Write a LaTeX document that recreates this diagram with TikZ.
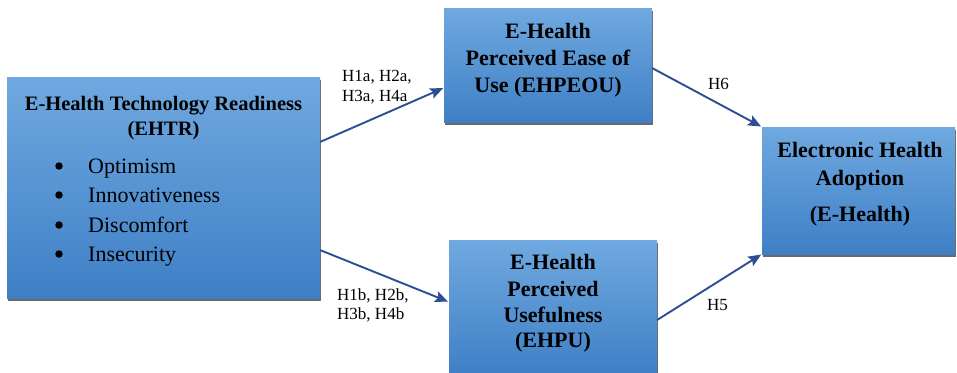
\documentclass[tikz,border=0pt]{standalone}
\usepackage{fontspec}
\setmainfont{Liberation Serif}
\usetikzlibrary{arrows.meta,calc,shadows}

\definecolor{boxtop}{RGB}{112,169,224}
\definecolor{boxbot}{RGB}{62,127,197}
\definecolor{arrowblue}{RGB}{44,78,146}
\definecolor{shadowgrey}{RGB}{80,80,80}

\tikzset{
  panel/.style={anchor=north west, inner sep=0pt, outer sep=0pt,
    top color=boxtop, bottom color=boxbot,
    drop shadow={shadow xshift=0.6pt, shadow yshift=-2.6pt, fill=shadowgrey, opacity=0.85}},
  heading/.style={anchor=base, inner sep=0pt, font=\fontsize{22}{26}\selectfont\bfseries},
  maintitle/.style={anchor=base, inner sep=0pt, font=\fontsize{20.5}{24}\selectfont\bfseries},
  item/.style={anchor=base west, inner sep=0pt, font=\fontsize{22}{26}\selectfont},
  dot/.style={anchor=center, inner sep=0pt, circle, fill=black, minimum size=7.5pt},
  hyp/.style={anchor=base west, inner sep=0pt, font=\fontsize{17}{20}\selectfont},
  link/.style={draw=arrowblue, line width=1.9pt,
    -{Stealth[length=13pt, width=11pt, inset=2.5pt]}, shorten >=1pt}
}

\begin{document}
\begin{tikzpicture}[x=1pt, y=-1pt]
  \useasboundingbox (0,0) rectangle (957,372);

  % Construct panels
  \node[panel, minimum width=313pt, minimum height=221pt] (ehtr)   at (7,77)   {};
  \node[panel, minimum width=208pt, minimum height=114pt] (ehpeou) at (444,8)  {};
  \node[panel, minimum width=208pt, minimum height=135pt] (ehpu)   at (449,240) {};
  \node[panel, minimum width=193pt, minimum height=127pt] (adopt)  at (762,127) {};

  % Technology readiness panel
  \node[maintitle] (ehtrA) at (163.5,110) {E-Health Technology Readiness};
  \node[maintitle] (ehtrB) at (163.5,135) {(EHTR)};
  \node[dot]  (b1) at (59,166) {};
  \node[item] (i1) at (88,173) {Optimism};
  \node[dot]  (b2) at (59,195) {};
  \node[item] (i2) at (88,202) {Innovativeness};
  \node[dot]  (b3) at (59,225) {};
  \node[item] (i3) at (88,232) {Discomfort};
  \node[dot]  (b4) at (59,254) {};
  \node[item] (i4) at (88,261) {Insecurity};

  % Perceived ease of use panel
  \node[heading] (eouA) at (548,38) {E-Health};
  \node[heading] (eouB) at (548,65) {Perceived Ease of};
  \node[heading] (eouC) at (548,92) {Use (EHPEOU)};

  % Perceived usefulness panel
  \node[heading] (puA) at (553,269) {E-Health};
  \node[heading] (puB) at (553,296) {Perceived};
  \node[heading] (puC) at (553,322) {Usefulness};
  \node[heading] (puD) at (553,347) {(EHPU)};

  % Adoption panel
  \node[heading] (adA) at (860,157) {Electronic Health};
  \node[heading] (adB) at (860,185) {Adoption};
  \node[heading] (adC) at (860,221) {(E-Health)};

  % Hypothesis paths
  \draw[link] ($(ehtr.north east)!0.294!(ehtr.south east)$)
           -- ($(ehpeou.north west)!0.70!(ehpeou.south west)$);
  \draw[link] ($(ehtr.north east)!0.783!(ehtr.south east)$)
           -- ($(ehpu.north west)!0.459!(ehpu.south west)$);
  \draw[link] ($(ehpeou.north east)!0.526!(ehpeou.south east)$)
           -- (adopt.north west);
  \draw[link] ($(ehpu.north east)!0.593!(ehpu.south east)$)
           -- (adopt.south west);

  % Path labels
  \node[hyp] (h1a) at (342,81)  {H1a, H2a,};
  \node[hyp] (h3a) at (342,101) {H3a, H4a};
  \node[hyp] (h1b) at (337,300) {H1b, H2b,};
  \node[hyp] (h3b) at (337,319) {H3b, H4b};
  \node[hyp] (h6)  at (708,89)  {H6};
  \node[hyp] (h5)  at (707,310) {H5};
\end{tikzpicture}
\end{document}
